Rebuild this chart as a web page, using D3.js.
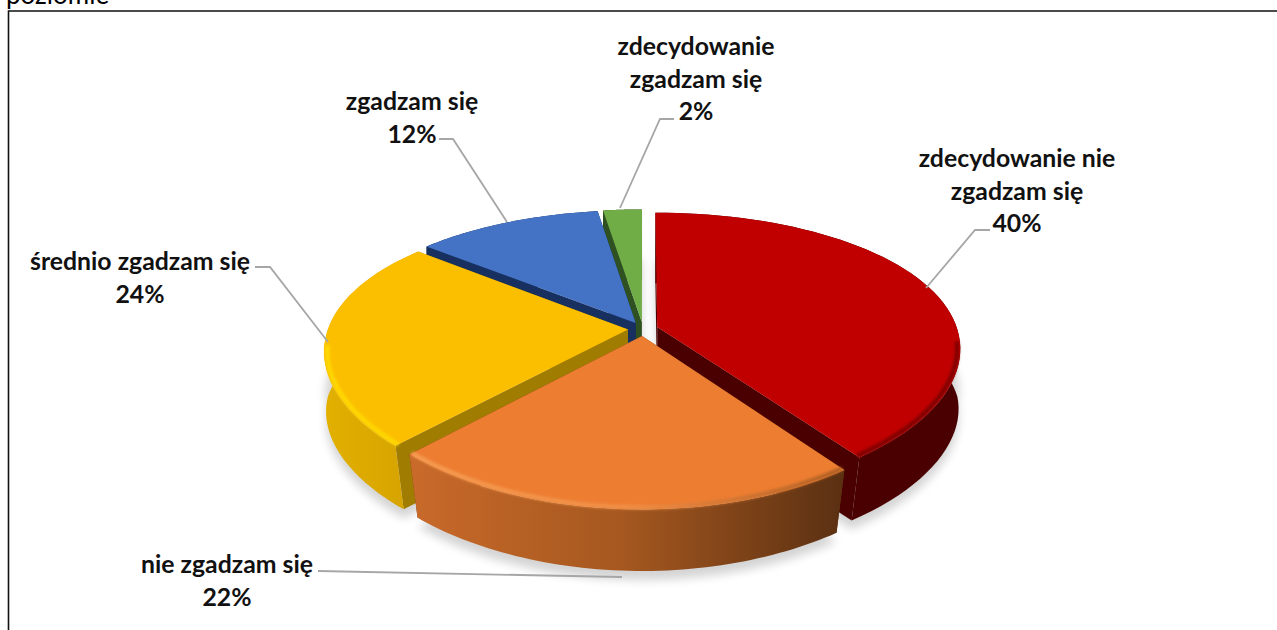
<!DOCTYPE html>
<html><head><meta charset="utf-8">
<script src="https://cdn.jsdelivr.net/npm/d3@7"></script>
<style>html,body{margin:0;padding:0;background:#fff;overflow:hidden}svg{display:block}</style>
</head><body><svg id="c" width="1277" height="630"></svg>
<script>
// ---- data ----
const categories = ["zdecydowanie nie zgadzam się","nie zgadzam się","średnio zgadzam się","zgadzam się","zdecydowanie zgadzam się"];
const values = [40.0, 22.0, 24.0, 11.6, 2.4];
const pageTitle = "poziomie";

// ---- styles ----
const topColors  = ["#C00000","#ED7D31","#FCBF00","#4472C4","#70AD47"];
const sideColors = ["#4a0000","#6b3a14","#a07c00","#17305f","#2f5020"];
const wallStops  = [["#4a0000","#4a0000"],["#c96a2a","#a4571f","#5a3012"],["#e2b000","#d5a200"],["#17305f","#17305f"],["#2f5020","#2f5020"]];
const rimStops   = [["#7a0000","#7a0000"],["#f7a055","#f09048","#a85a20"],["#ffdc00","#ffd800"],["#4472C4","#4472C4"],["#70AD47","#70AD47"]];
const labelLines = [
  ["zdecydowanie nie","zgadzam się"],["nie zgadzam się"],["średnio zgadzam się"],["zgadzam się"],["zdecydowanie","zgadzam się"]];
const labelLayout = [
  {x:1017, y:167, leader:[[926,288],[975,230],[990,230]]},
  {x:227,  y:573, leader:[[622,577],[318,571]]},
  {x:140,  y:270, leader:[[328,342],[270,267],[255,267]]},
  {x:412,  y:110, leader:[[507,222],[453,139],[439,139]]},
  {x:696,  y:55,  leader:[[620,208],[660,119],[674,119]]}
];
const drawOrder = [4,3,2,0,1];
const view = {cx:643, cy:329, fx:300, fz:137, kx:0.15, kz:0.193, explode:0.05, depth:67, taper:0.03, taperX:0.045};
const fontFamily = "Lato, 'Open Sans', sans-serif";

const svg = d3.select("#c");
const defs = svg.append("defs");
const blur = (id,sd)=>defs.append("filter").attr("id",id)
  .attr("x","-20%").attr("y","-20%").attr("width","140%").attr("height","140%")
  .append("feGaussianBlur").attr("stdDeviation",sd);
blur("shadowBlur",5); blur("rimBlur",1.5);

const pie = d3.pie().value(d=>d).sort(null);
const arcs = pie(values);
const scaleX = d3.scaleLinear().domain([-1,1]).range([-view.fx,view.fx]);
const scaleZ = d3.scaleLinear().domain([-1,1]).range([-view.fz,view.fz]);

function project(arc, angle, r, level){
  const mid = (arc.startAngle+arc.endAngle)/2;
  const x = r*Math.sin(angle)+view.explode*Math.sin(mid);
  const z = -r*Math.cos(angle)-view.explode*Math.cos(mid);
  const t = 1-view.taper*level;
  const tx = 1-view.taperX*level*Math.max(z,0);
  return [view.cx+scaleX(x)/(1-view.kx*z)*tx, view.cy+scaleZ(z)/(1-view.kz*z)*t+view.depth*level];
}
const line = d3.line();
const anglesOf = arc=>d3.range(0,61).map(i=>arc.startAngle+(arc.endAngle-arc.startAngle)*i/60);
const rim = (arc,r,level)=>anglesOf(arc).map(a=>project(arc,a,r,level));
const frontRim = (arc,r)=>anglesOf(arc).filter(a=>Math.cos(a)<-0.1).map(a=>project(arc,a,r,0));
const topPoly = (arc,level=0)=>[project(arc,0,0,level)].concat(rim(arc,1,level));
const radialWall = (arc,a)=>[project(arc,a,0,0),project(arc,a,1,0),project(arc,a,1,1),project(arc,a,0,1)];
const outerWall = arc=>rim(arc,1,0).concat(rim(arc,1,1).reverse());

function gradient(id,stops,arc){
  const xs=rim(arc,1,0).map(p=>p[0]);
  const g=defs.append("linearGradient").attr("id",id).attr("gradientUnits","userSpaceOnUse")
    .attr("x1",d3.min(xs)).attr("x2",d3.max(xs)).attr("y1",0).attr("y2",0);
  stops.forEach((c,i)=>g.append("stop").attr("offset",i/(stops.length-1)).attr("stop-color",c));
}
arcs.forEach((a,i)=>{gradient("wall"+i,wallStops[i],a);gradient("rim"+i,rimStops[i],a);});

// frame + clipped caption
svg.append("text").attr("x",6).attr("y",4).attr("font-family",fontFamily).attr("font-size",26)
  .attr("fill","#000").text(pageTitle);
svg.append("path").attr("d","M8.5,630V11H1277").attr("fill","none").attr("stroke","#111").attr("stroke-width",1.6);

// soft shadow
const shadow = svg.append("g").attr("filter","url(#shadowBlur)").attr("opacity",0.17);
arcs.forEach(a=>{
  shadow.append("path").attr("d",line(topPoly(a,1).map(p=>[p[0],p[1]+9]))+"Z").attr("fill","#000");
  shadow.append("path").attr("d",line(topPoly(a,0.7))+"Z").attr("fill","#000");
});

// slices, back to front
drawOrder.forEach(i=>{
  const a=arcs[i], g=svg.append("g");
  [a.startAngle,a.endAngle].forEach(ang=>
    g.append("path").attr("d",line(radialWall(a,ang))+"Z").attr("fill",sideColors[i]));
  g.append("path").attr("d",line(outerWall(a))+"Z").attr("fill",`url(#wall${i})`);
  g.append("path").attr("d",line(topPoly(a))+"Z").attr("fill",topColors[i]);
  const fr=frontRim(a,0.99);
  if(fr.length>1) g.append("path").attr("d",line(fr)).attr("fill","none")
    .attr("stroke",`url(#rim${i})`).attr("stroke-width",4).attr("filter","url(#rimBlur)");
});

// leaders and labels
labelLayout.forEach((l,i)=>{
  svg.append("path").attr("d",line(l.leader)).attr("fill","none").attr("stroke","#a6a6a6").attr("stroke-width",1.8);
  const t=svg.append("text").attr("text-anchor","middle").attr("font-family",fontFamily)
    .attr("font-weight",700).attr("font-size",24.8).attr("fill","#111");
  labelLines[i].concat([d3.format(".0%")(values[i]/100)]).forEach((s,j)=>
    t.append("tspan").attr("x",l.x).attr("y",l.y+j*32.7).text(s));
});
</script></body></html>
